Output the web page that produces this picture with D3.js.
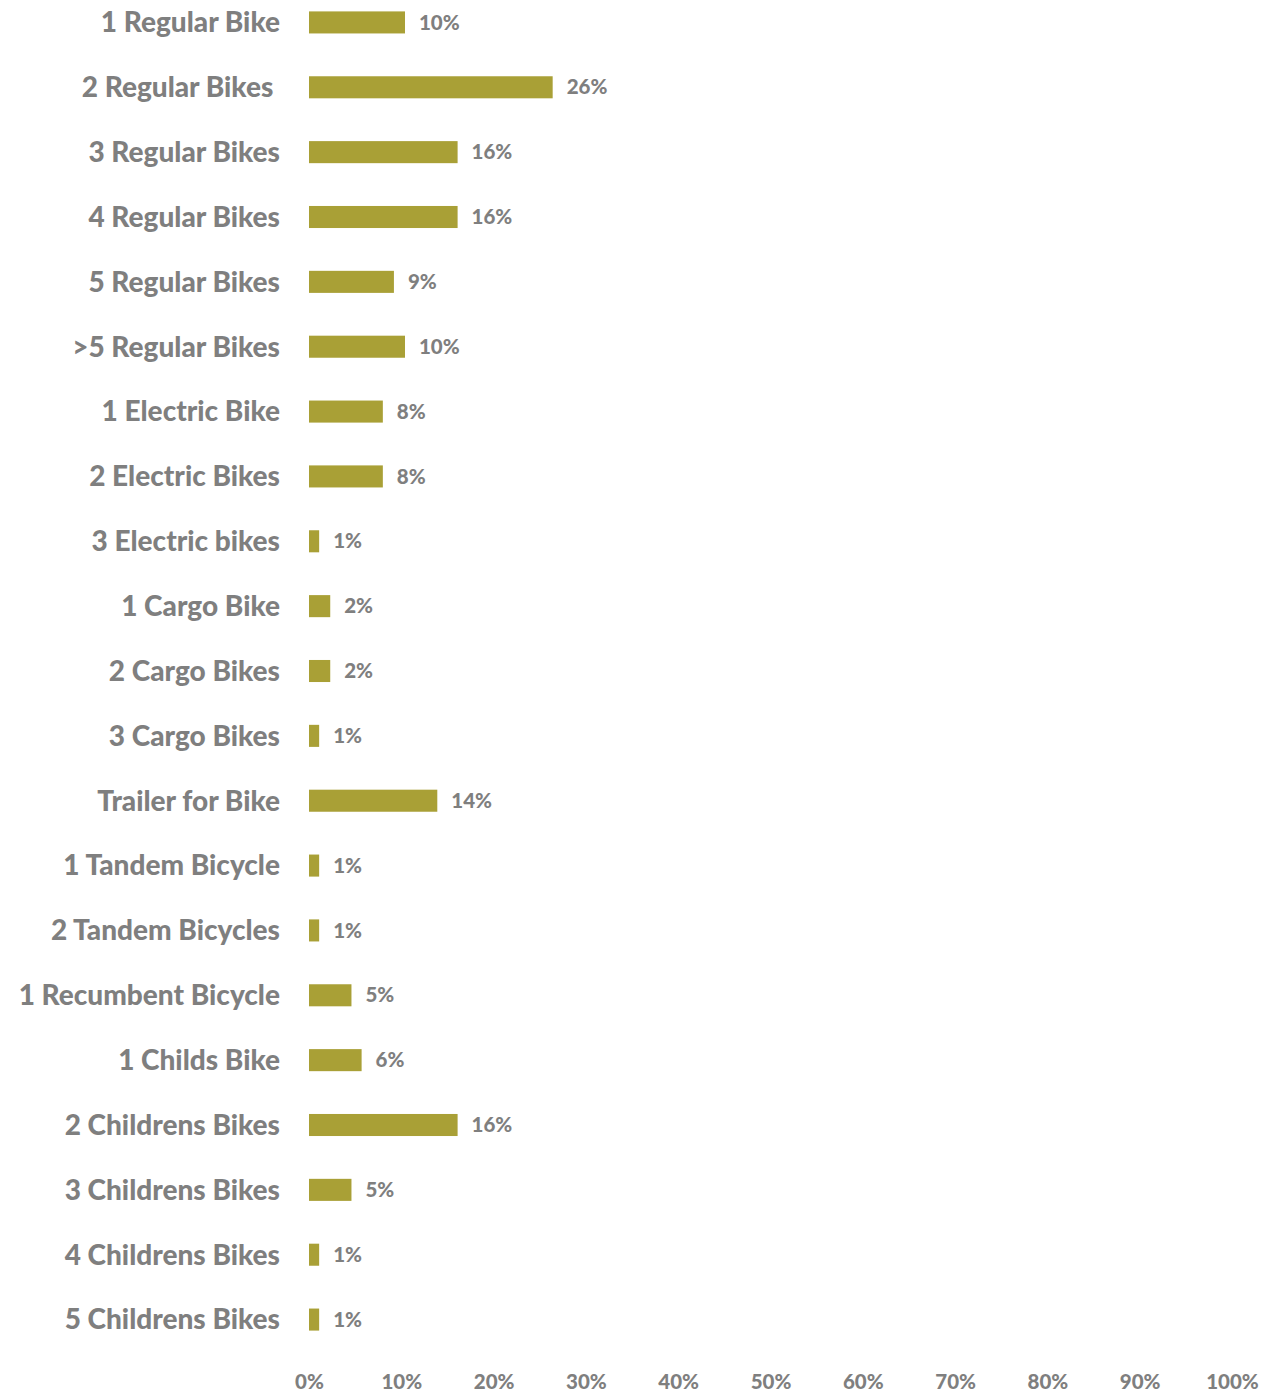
<!DOCTYPE html>
<html>
<head>
<meta charset="utf-8">
<script src="https://cdn.jsdelivr.net/npm/d3@7"></script>
<style>
html,body{margin:0;padding:0;background:#fff;}
svg{display:block;}
text.cat{white-space:pre;}
</style>
</head>
<body>
<svg id="chart" width="1261" height="1394"></svg>
<script>
const categories = ["1 Regular Bike","2 Regular Bikes ","3 Regular Bikes","4 Regular Bikes","5 Regular Bikes",">5 Regular Bikes","1 Electric Bike","2 Electric Bikes","3 Electric bikes","1 Cargo Bike","2 Cargo Bikes","3 Cargo Bikes","Trailer for Bike","1 Tandem Bicycle","2 Tandem Bicycles","1 Recumbent Bicycle","1 Childs Bike","2 Childrens Bikes","3 Childrens Bikes","4 Childrens Bikes","5 Childrens Bikes"];
const values = [10.4,26.4,16.1,16.1,9.2,10.4,8.0,8.0,1.1,2.3,2.3,1.1,13.9,1.1,1.1,4.6,5.7,16.1,4.6,1.1,1.1];
const tickValues = [0,10,20,30,40,50,60,70,80,90,100];

const svg = d3.select("#chart");
const x = d3.scaleLinear().domain([0,100]).range([309,1232]);
const y = d3.scaleBand().domain(categories).range([-10,1352]).paddingInner(0.66).paddingOuter(0.33);

const font = "Lato, 'Open Sans', sans-serif";
const grey = "#7f7f7f";
const barColor = "#a9a036";

svg.selectAll("rect.bar").data(categories).join("rect")
  .attr("class","bar")
  .attr("x", x(0))
  .attr("y", d => y(d))
  .attr("width", (d,i) => x(values[i]) - x(0))
  .attr("height", y.bandwidth())
  .attr("fill", barColor);

svg.selectAll("text.cat").data(categories).join("text")
  .attr("class","cat")
  .attr("xml:space","preserve")
  .attr("x", 280)
  .attr("y", d => y(d) + y.bandwidth()/2)
  .attr("dy","0.35em")
  .attr("text-anchor","end")
  .attr("font-family", font)
  .attr("font-weight", 900)
  .attr("font-size", 28)
  .attr("fill", grey)
  .text(d => d);

svg.selectAll("text.val").data(categories).join("text")
  .attr("class","val")
  .attr("x", (d,i) => x(values[i]) + 14)
  .attr("y", d => y(d) + y.bandwidth()/2)
  .attr("dy","0.35em")
  .attr("font-family", font)
  .attr("font-weight", 900)
  .attr("font-size", 20.5)
  .attr("fill", grey)
  .text((d,i) => Math.round(values[i]) + "%");

const axis = d3.axisBottom(x).tickValues(tickValues).tickFormat(d => d + "%").tickSize(0).tickPadding(0);
const g = svg.append("g").attr("transform","translate(0,1370)").call(axis);
g.select(".domain").remove();
g.selectAll("text")
  .attr("font-family", font)
  .attr("font-weight", 900)
  .attr("font-size", 20.5)
  .attr("fill", grey)
  .attr("dy","0.35em")
  .attr("y", 12);
</script>
</body>
</html>
